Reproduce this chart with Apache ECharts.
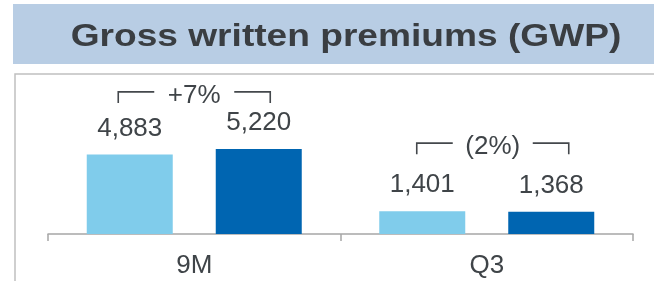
<!DOCTYPE html>
<html>
<head>
<meta charset="UTF-8">
<title>Gross written premiums (GWP)</title>
<script type="text/javascript" src="https://cdn.jsdelivr.net/npm/echarts@6/dist/echarts.min.js"></script>
<style>
  html, body { margin: 0; padding: 0; background: #ffffff; }
  #main { width: 654px; height: 281px; }
</style>
</head>
<body>
<div id="main"></div>
<script type="text/javascript">
// data
var categories = ['9M', 'Q3'];
var priorYear = [4883, 1401];
var currentYear = [5220, 1368];
var changes = ['+7%', '(2%)'];

var textColor = '#3f4448';
var font = '"Liberation Sans", Arial, sans-serif';

// bracket placement per category: [dx, lift above the taller bar]
var bracketShift = [[0, 57], [6, 68]];

var bracketData = [];
for (var i = 0; i < categories.length; i++) {
  bracketData.push([i, priorYear[i], currentYear[i]]);
}

var chart = echarts.init(document.getElementById('main'), null, { renderer: 'canvas' });

var option = {
  animation: false,
  backgroundColor: '#ffffff',
  textStyle: { fontFamily: font },
  graphic: [
    // title band
    { type: 'rect', shape: { x: 13, y: 4, width: 641, height: 60 }, style: { fill: '#b8cde4' }, z: 0 },
    { type: 'text', x: 346, y: 37, scaleX: 1.16,
      style: { text: 'Gross written premiums (GWP)', font: 'bold 32px ' + font, fill: '#3a3e42',
               textAlign: 'center', textVerticalAlign: 'middle' }, z: 1 },
    // chart frame
    { type: 'polyline', shape: { points: [[15, 281], [15, 74], [654, 74]] },
      style: { stroke: '#c0c0c0', lineWidth: 1.5, fill: null }, z: 0 }
  ],
  grid: { left: 48, right: 21, top: 71, bottom: 47 },
  xAxis: {
    type: 'category',
    data: categories,
    axisLine: { lineStyle: { color: '#a6a6a6', width: 1.5 } },
    axisTick: { show: true, length: 7, lineStyle: { color: '#a6a6a6', width: 1.5 } },
    axisLabel: { fontSize: 26, color: textColor, margin: 19, fontFamily: font }
  },
  yAxis: {
    type: 'value', min: 0, max: 10000, show: false, splitLine: { show: false }
  },
  series: [
    {
      name: 'Prior year',
      type: 'bar',
      data: priorYear,
      barWidth: 86,
      barGap: '50%',
      itemStyle: { color: '#80cceb' },
      label: { show: true, position: 'top', distance: 13, fontSize: 26, color: textColor, fontFamily: font,
               formatter: function (p) { return p.value.toLocaleString('en-US'); } }
    },
    {
      name: 'Current year',
      type: 'bar',
      data: currentYear,
      barWidth: 86,
      itemStyle: { color: '#0065b1' },
      label: { show: true, position: 'top', distance: 13, fontSize: 26, color: textColor, fontFamily: font,
               formatter: function (p) { return p.value.toLocaleString('en-US'); } }
    },
    {
      name: 'Change',
      type: 'custom',
      data: bracketData,
      encode: { x: 0, y: [1, 2] },
      z: 5,
      renderItem: function (params, api) {
        var i = params.dataIndex;
        var top = Math.max(api.value(1), api.value(2));
        var p = api.coord([api.value(0), top]);
        var cx = p[0] + bracketShift[i][0];
        var y = p[1] - bracketShift[i][1];
        var lineStyle = { stroke: '#44484c', lineWidth: 1.6, fill: null };
        return {
          type: 'group',
          children: [
            { type: 'polyline', shape: { points: [[cx - 76, y + 11], [cx - 76, y], [cx - 40, y]] }, style: lineStyle },
            { type: 'polyline', shape: { points: [[cx + 40, y], [cx + 76, y], [cx + 76, y + 11]] }, style: lineStyle },
            { type: 'text', x: cx, y: y + 4,
              style: { text: changes[i], font: '26px ' + font, fill: textColor,
                       textAlign: 'center', textVerticalAlign: 'middle' } }
          ]
        };
      }
    }
  ]
};

chart.setOption(option);
</script>
</body>
</html>
